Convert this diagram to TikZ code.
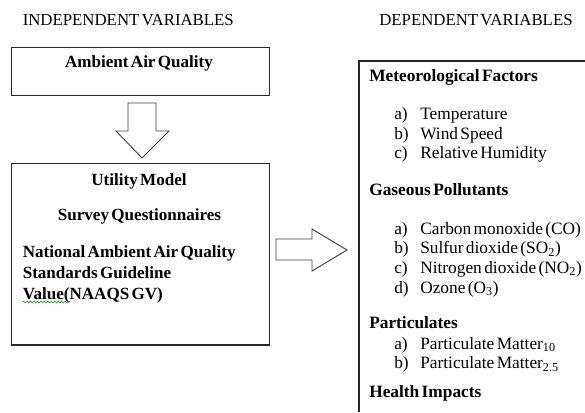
\documentclass[tikz,border=0pt]{standalone}
\usepackage{fontspec}
\setmainfont[WordSpace=0.55]{Liberation Serif}
\usetikzlibrary{decorations.pathmorphing}
\begin{document}
\begin{tikzpicture}[x=0.75pt,y=-0.75pt,
  font=\fontsize{13}{15}\selectfont,
  box/.style={draw=black!85, line width=0.8pt, inner sep=0pt},
  blockarrow/.style={draw=black!75, line width=0.7pt, fill=white, line join=miter},
  head/.style={font=\fontsize{12.6}{15}\selectfont, inner sep=0pt, anchor=base west},
  title/.style={font=\fontsize{12.8}{15}\selectfont\bfseries, inner sep=0pt, anchor=base},
  ltitle/.style={font=\fontsize{12.8}{15}\selectfont\bfseries, inner sep=0pt, anchor=base west},
  rtitle/.style={font=\fontsize{13}{15}\selectfont\bfseries, inner sep=0pt, anchor=base west},
  item/.style={inner sep=0pt, anchor=base west},
  lbl/.style={inner sep=0pt, anchor=base west},
]
\useasboundingbox (0,0) rectangle (585,412);
% headings
\node[head] (indep) at (22.5,25) {INDEPENDENT VARIABLES};
\node[head] (dep) at (379,25.5) {DEPENDENT VARIABLES};
% box 1
\node[box, anchor=north west, minimum width=193.5pt, minimum height=36pt] (aaq) at (10.5,46.5) {};
\node[title] (aaqt) at (139,67) {Ambient Air Quality};
% down arrow
\draw[blockarrow] (128,103) -- (156,103) -- (156,131) -- (169,131) -- (142,158) -- (116,131) -- (128,131) -- cycle;
% box 2
\node[box, anchor=north west, minimum width=193.5pt, minimum height=136.1pt] (util) at (10.5,163) {};
\node[title] (um) at (139,185) {Utility Model};
\node[title] (sq) at (139.5,220) {Survey Questionnaires};
\node[ltitle] (n1) at (22.5,257) {National Ambient Air Quality};
\node[ltitle] (n2) at (22.5,278) {Standards Guideline};
\node[ltitle] (n3) at (22.5,299) {Value(NAAQS GV)};
\draw[green!60!black, line width=0.4pt, decorate, decoration={snake, amplitude=0.7pt, segment length=2.6pt}] (22.5,302) -- (70.5,302);
% right arrow
\draw[blockarrow] (276,239) -- (312,239) -- (312,229) -- (347,250) -- (312,271) -- (312,260) -- (276,260) -- cycle;
% right box (cut off at right and bottom)
\coordinate (rtr) at (585,61);
\coordinate (rtl) at (359,61);
\coordinate (rbl) at (359,412);
\draw[line width=0.8pt, draw=black!85] (rtr) -- (rtl) -- (rbl);
% right contents
\node[rtitle] (mf) at (369,81) {Meteorological Factors};
\node[lbl] (ma) at (394,119) {a)}; \node[item] (mat) at (420,119) {Temperature};
\node[lbl] (mb) at (394,139) {b)}; \node[item] (mbt) at (420,139) {Wind Speed};
\node[lbl] (mc) at (394,158) {c)}; \node[item] (mct) at (420,158) {Relative Humidity};
\node[rtitle] (gp) at (369,195) {Gaseous Pollutants};
\node[lbl] (ga) at (394,234) {a)}; \node[item] (gat) at (420,234) {Carbon monoxide (CO)};
\node[lbl] (gb) at (394,253.5) {b)}; \node[item] (gbt) at (420,253.5) {Sulfur dioxide (SO\textsubscript{2})};
\node[lbl] (gc) at (394,273) {c)}; \node[item] (gct) at (420,273) {Nitrogen dioxide (NO\textsubscript{2})};
\node[lbl] (gd) at (394,293) {d)}; \node[item] (gdt) at (420,293) {Ozone (O\textsubscript{3})};
\node[rtitle] (pt) at (369,328.5) {Particulates};
\node[lbl] (pa) at (394,349) {a)}; \node[item] (pat) at (420,349) {Particulate Matter\textsubscript{10}};
\node[lbl] (pb) at (394,368.5) {b)}; \node[item] (pbt) at (420,368.5) {Particulate Matter\textsubscript{2.5}};
\node[rtitle] (hi) at (369,397) {Health Impacts};
\end{tikzpicture}
\end{document}
